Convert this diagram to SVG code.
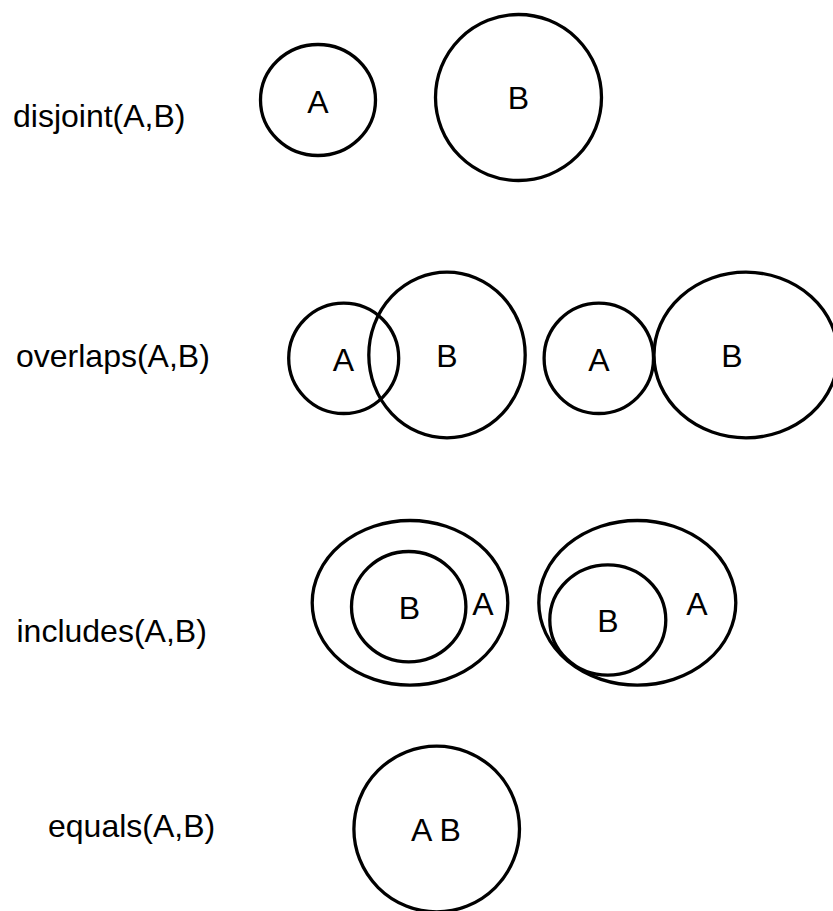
<svg xmlns="http://www.w3.org/2000/svg" width="833" height="911" viewBox="0 0 833 911">
  <style>
    .set { fill: none; stroke: #000; stroke-width: 3.3; }
    text { font-family: "Liberation Sans", Arial, sans-serif; font-size: 32px; fill: #000; }
    .name { text-anchor: middle; }
  </style>
  <rect width="833" height="911" fill="#fff"/>

  <!-- Row 1: disjoint -->
  <g id="row-disjoint">
    <text x="13" y="127">disjoint(A,B)</text>
    <g id="disjoint-A">
      <ellipse class="set" cx="318" cy="100" rx="57.5" ry="55.5"/>
      <text class="name" x="318" y="113">A</text>
    </g>
    <g id="disjoint-B">
      <circle class="set" cx="518.5" cy="97.5" r="83"/>
      <text class="name" x="518.5" y="109">B</text>
    </g>
  </g>

  <!-- Row 2: overlaps -->
  <g id="row-overlaps">
    <text x="16" y="367">overlaps(A,B)</text>
    <g id="overlaps1-A">
      <ellipse class="set" cx="343.7" cy="358.3" rx="55" ry="55.2"/>
      <text class="name" x="343.5" y="370.5">A</text>
    </g>
    <g id="overlaps1-B">
      <ellipse class="set" cx="447" cy="355" rx="78.2" ry="82.8"/>
      <text class="name" x="447" y="367">B</text>
    </g>
    <g id="overlaps2-A">
      <ellipse class="set" cx="598.8" cy="358.3" rx="54.7" ry="55.2"/>
      <text class="name" x="599" y="370.5">A</text>
    </g>
    <g id="overlaps2-B">
      <ellipse class="set" cx="746" cy="355" rx="92" ry="82.8"/>
      <text class="name" x="732" y="367">B</text>
    </g>
  </g>

  <!-- Row 3: includes -->
  <g id="row-includes">
    <text x="16.5" y="642">includes(A,B)</text>
    <g id="includes1-A">
      <ellipse class="set" cx="410" cy="602.8" rx="97.8" ry="82.3"/>
      <text class="name" x="483" y="615">A</text>
    </g>
    <g id="includes1-B">
      <ellipse class="set" cx="408.7" cy="606.7" rx="57.2" ry="55.2"/>
      <text class="name" x="409.3" y="619">B</text>
    </g>
    <g id="includes2-A">
      <ellipse class="set" cx="637.3" cy="602.8" rx="98.5" ry="82.3"/>
      <text class="name" x="697" y="615">A</text>
    </g>
    <g id="includes2-B">
      <ellipse class="set" cx="607.8" cy="620" rx="58" ry="55.2"/>
      <text class="name" x="608" y="631.5">B</text>
    </g>
  </g>

  <!-- Row 4: equals -->
  <g id="row-equals">
    <text x="48" y="836.5">equals(A,B)</text>
    <g id="equals-AB">
      <circle class="set" cx="436.7" cy="829" r="82.8"/>
      <text class="name" x="436" y="841">A B</text>
    </g>
  </g>
</svg>
